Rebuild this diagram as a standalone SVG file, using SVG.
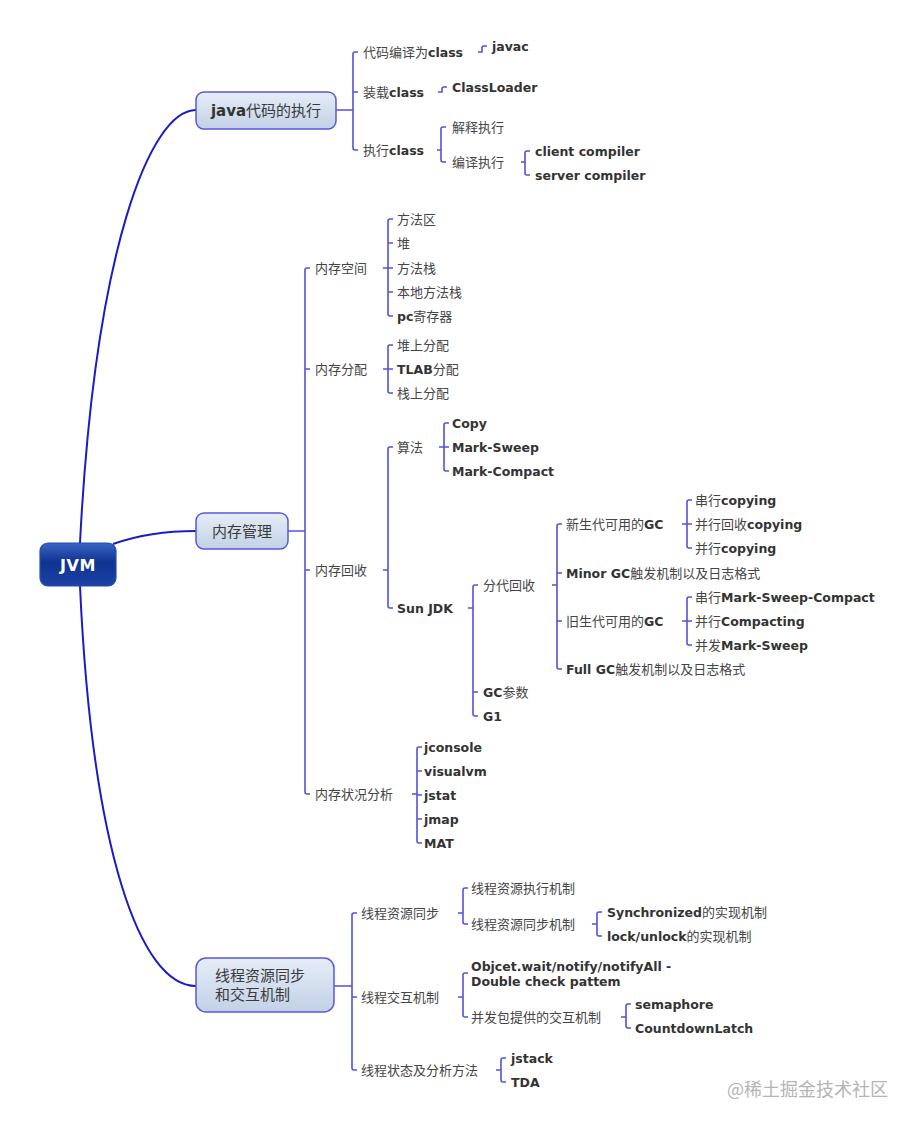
<svg xmlns="http://www.w3.org/2000/svg" width="917" height="1130" viewBox="0 0 917 1130">
<defs>
<linearGradient id="gNode" x1="0" y1="0" x2="0" y2="1">
<stop offset="0" stop-color="#e6edf7"/><stop offset="1" stop-color="#c2d1e6"/>
</linearGradient>
<linearGradient id="gRoot" x1="0" y1="0" x2="0" y2="1">
<stop offset="0" stop-color="#3a64c4"/><stop offset="0.45" stop-color="#0f3391"/><stop offset="1" stop-color="#1c42a6"/>
</linearGradient>
<style>
text{font-family:"DejaVu Sans","Noto Sans CJK SC",sans-serif;font-size:13px;fill:#454545}
.b{font-weight:bold;fill:#333;font-size:12.5px}
.n{font-size:15px;fill:#3a3a3a}
.n .b{font-size:15px}
.root{font-size:16px;font-weight:bold;fill:#fff;letter-spacing:0.5px}
.wm{font-family:"Noto Sans CJK SC",sans-serif;font-size:18px;fill:#b4b4b4}
.box{fill:url(#gNode);stroke:#5858dc;stroke-width:1.5}
.curve{fill:none;stroke:#1c1cc4;stroke-width:2}
.br{fill:none;stroke:#5252dc;stroke-width:1.6}
</style>
</defs>

<g id="connectors">
<path class="curve" d="M80 543 C95 250 150 110 196 110"/>
<path class="curve" d="M113 544 Q150 531 196 531"/>
<path class="curve" d="M80 586 C92 850 140 986 196 986"/>

<path class="br" d="M336 110 H353 M358 52 H355 Q353 52 353 54 V148 Q353 150 355 150 H358 M353 92 H358"/>
<path class="br" d="M478 52 H482 V48 Q482 46 484 46 H487"/>
<path class="br" d="M438 92 H442 V89 Q442 87 444 87 H447"/>
<path class="br" d="M437 150 H441 M446 127 H443 Q441 127 441 129 V160 Q441 162 443 162 H446"/>
<path class="br" d="M521 162 H525 M530 151 H527 Q525 151 525 153 V173 Q525 175 527 175 H530"/>

<path class="br" d="M288 531 H305 M310 268 H307 Q305 268 305 270 V792 Q305 794 307 794 H310 M305 369 H310 M305 570 H310"/>
<path class="br" d="M383 268 H388 M393 219 H390 Q388 219 388 221 V314 Q388 316 390 316 H393 M388 243 H393 M388 268 H393 M388 292 H393"/>
<path class="br" d="M383 369 H388 M393 345 H390 Q388 345 388 347 V391 Q388 393 390 393 H393 M388 369 H393"/>
<path class="br" d="M383 570 H388 M393 447 H390 Q388 447 388 449 V606 Q388 608 390 608 H393"/>
<path class="br" d="M439 447 H444 M449 423 H446 Q444 423 444 425 V469 Q444 471 446 471 H449 M444 447 H449"/>
<path class="br" d="M468 608 H473 M478 585 H475 Q473 585 473 587 V714 Q473 716 475 716 H478 M473 692 H478"/>
<path class="br" d="M552 585 H557 M562 524 H559 Q557 524 557 526 V667 Q557 669 559 669 H562 M557 573 H562 M557 621 H562"/>
<path class="br" d="M682 524 H687 M692 500 H689 Q687 500 687 502 V546 Q687 548 689 548 H692 M687 524 H692"/>
<path class="br" d="M682 621 H687 M692 597 H689 Q687 597 687 599 V643 Q687 645 689 645 H692 M687 621 H692"/>
<path class="br" d="M412 794 H417 M422 747 H419 Q417 747 417 749 V841 Q417 843 419 843 H422 M417 771 H422 M417 795 H422 M417 819 H422"/>

<path class="br" d="M334 986 H352 M357 913 H354 Q352 913 352 915 V1068 Q352 1070 354 1070 H357 M352 997 H357"/>
<path class="br" d="M458 913 H463 M468 888 H465 Q463 888 463 890 V922 Q463 924 465 924 H468"/>
<path class="br" d="M592 924 H597 M602 912 H599 Q597 912 597 914 V934 Q597 936 599 936 H602"/>
<path class="br" d="M458 997 H463 M468 973 H465 Q463 973 463 975 V1015 Q463 1017 465 1017 H468"/>
<path class="br" d="M621 1017 H626 M631 1004 H628 Q626 1004 626 1006 V1026 Q626 1028 628 1028 H631"/>
<path class="br" d="M496 1070 H501 M506 1058 H503 Q501 1058 501 1060 V1080 Q501 1082 503 1082 H506"/>
</g>

<g id="jvm">
<rect x="40" y="543" width="76" height="43" rx="8" fill="url(#gRoot)" stroke="#2a4bb0" stroke-width="1.2"/>
<text class="root" x="78" y="570.5" text-anchor="middle">JVM</text>
</g>

<g id="java-exec">
<rect class="box" x="196" y="92" width="140" height="37" rx="8"/>
<text class="n" x="266" y="116" text-anchor="middle"><tspan class="b">java</tspan>代码的执行</text>
</g>
<g id="java-children">
<text x="363" y="57">代码编译为<tspan class="b">class</tspan></text>
<text x="363" y="97">装载<tspan class="b">class</tspan></text>
<text x="363" y="155">执行<tspan class="b">class</tspan></text>
<text class="b" x="492" y="51">javac</text>
<text class="b" x="452" y="92">ClassLoader</text>
<text x="452" y="132">解释执行</text>
<text x="452" y="167">编译执行</text>
<text class="b" x="535" y="156">client compiler</text>
<text class="b" x="535" y="180">server compiler</text>
</g>

<g id="mem-mgmt">
<rect class="box" x="196" y="513" width="92" height="36" rx="8"/>
<text class="n" x="242" y="536.5" text-anchor="middle">内存管理</text>
</g>
<g id="mem-children">
<text x="315" y="273">内存空间</text>
<text x="315" y="374">内存分配</text>
<text x="315" y="575">内存回收</text>
<text x="315" y="799">内存状况分析</text>
<text x="397" y="224">方法区</text>
<text x="397" y="248">堆</text>
<text x="397" y="273">方法栈</text>
<text x="397" y="297">本地方法栈</text>
<text x="397" y="321"><tspan class="b">pc</tspan>寄存器</text>
<text x="397" y="350">堆上分配</text>
<text x="397" y="374"><tspan class="b">TLAB</tspan>分配</text>
<text x="397" y="398">栈上分配</text>
<text x="397" y="452">算法</text>
<text class="b" x="397" y="613">Sun JDK</text>
<text class="b" x="452" y="428">Copy</text>
<text class="b" x="452" y="452">Mark-Sweep</text>
<text class="b" x="452" y="476">Mark-Compact</text>
<text x="483" y="590">分代回收</text>
<text x="483" y="697"><tspan class="b">GC</tspan>参数</text>
<text class="b" x="483" y="721">G1</text>
<text x="566" y="529">新生代可用的<tspan class="b">GC</tspan></text>
<text x="566" y="578"><tspan class="b">Minor GC</tspan>触发机制以及日志格式</text>
<text x="566" y="626">旧生代可用的<tspan class="b">GC</tspan></text>
<text x="566" y="674"><tspan class="b">Full GC</tspan>触发机制以及日志格式</text>
<text x="695" y="505">串行<tspan class="b">copying</tspan></text>
<text x="695" y="529">并行回收<tspan class="b">copying</tspan></text>
<text x="695" y="553">并行<tspan class="b">copying</tspan></text>
<text x="695" y="602">串行<tspan class="b">Mark-Sweep-Compact</tspan></text>
<text x="695" y="626">并行<tspan class="b">Compacting</tspan></text>
<text x="695" y="650">并发<tspan class="b">Mark-Sweep</tspan></text>
<text class="b" x="424" y="752">jconsole</text>
<text class="b" x="424" y="776">visualvm</text>
<text class="b" x="424" y="800">jstat</text>
<text class="b" x="424" y="824">jmap</text>
<text class="b" x="424" y="848">MAT</text>
</g>

<g id="thread">
<rect class="box" x="196" y="958" width="138" height="54" rx="10"/>
<text class="n" x="215" y="981">线程资源同步</text>
<text class="n" x="215" y="1000">和交互机制</text>
</g>
<g id="thread-children">
<text x="361" y="918">线程资源同步</text>
<text x="361" y="1002">线程交互机制</text>
<text x="361" y="1075">线程状态及分析方法</text>
<text x="471" y="893">线程资源执行机制</text>
<text x="471" y="929">线程资源同步机制</text>
<text x="607" y="917"><tspan class="b">Synchronized</tspan>的实现机制</text>
<text x="607" y="941"><tspan class="b">lock/unlock</tspan>的实现机制</text>
<text class="b" x="471" y="971">Objcet.wait/notify/notifyAll -</text>
<text class="b" x="471" y="986">Double check pattem</text>
<text x="471" y="1022">并发包提供的交互机制</text>
<text class="b" x="635" y="1009">semaphore</text>
<text class="b" x="635" y="1033">CountdownLatch</text>
<text class="b" x="511" y="1063">jstack</text>
<text class="b" x="511" y="1087">TDA</text>
</g>

<text class="wm" x="727" y="1096">@稀土掘金技术社区</text>
</svg>
